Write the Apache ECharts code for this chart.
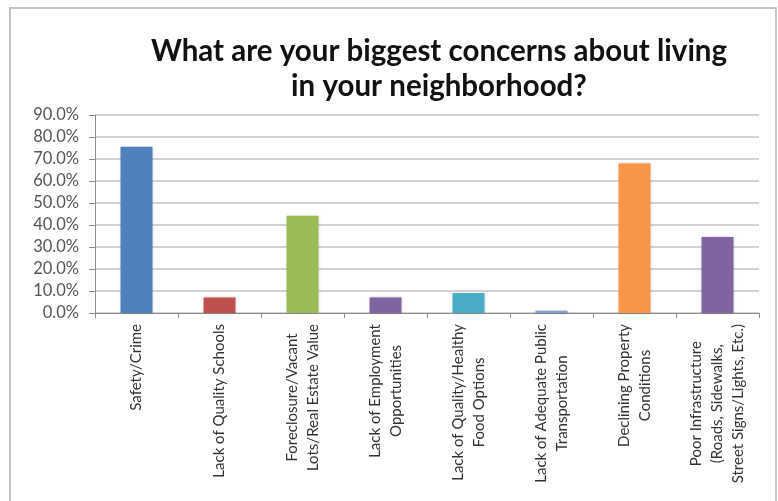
<!DOCTYPE html>
<html>
<head>
<meta charset="utf-8">
<script src="https://cdn.jsdelivr.net/npm/echarts@6/dist/echarts.min.js"></script>
<style>
  html, body { margin: 0; padding: 0; background: #fff; }
  #chart { position: absolute; left: 0; top: 0; width: 778px; height: 501px; }
  #frame { position: absolute; left: 9px; top: 7px; width: 764px; height: 500px;
           border: 2px solid #c4c4c4; border-bottom: none; pointer-events: none; }
</style>
</head>
<body>
<div id="chart"></div>
<div id="frame"></div>
<script>
// Survey question and answer categories
const titleText = 'What are your biggest concerns about living\nin your neighborhood?';
const categories = [
  'Safety/Crime',
  'Lack of Quality Schools',
  'Foreclosure/Vacant\nLots/Real Estate Value',
  'Lack of Employment\nOpportunities',
  'Lack of Quality/Healthy\nFood Options',
  'Lack of Adequate Public\nTransportation',
  'Declining Property\nConditions',
  'Poor Infrastructure\n(Roads, Sidewalks,\nStreet Signs/Lights, Etc.)'
];
// Share of respondents (%)
const shares = [75.6, 7.1, 44.2, 7.1, 9.1, 1.0, 68.0, 34.5];
const barColors = ['#4F81BD', '#C0504D', '#9BBB59', '#8064A2', '#4BACC6', '#7FA0CF', '#F79646', '#8064A2'];
const yMax = 90;
const yStep = 10;

const chart = echarts.init(document.getElementById('chart'), null, { renderer: 'canvas' });
chart.setOption({
  animation: false,
  backgroundColor: 'transparent',
  title: {
    text: titleText,
    left: 434,
    top: 29,
    textAlign: 'center',
    textStyle: {
      fontFamily: 'Lato',
      fontWeight: 'bold',
      fontSize: 29.5,
      lineHeight: 35,
      color: '#111'
    }
  },
  grid: { left: 95, right: 19, top: 115, bottom: 188, containLabel: false },
  xAxis: {
    type: 'category',
    data: categories,
    axisLine: { lineStyle: { color: '#8c8c8c', width: 1 } },
    axisTick: { show: true, length: 5, alignWithLabel: false, lineStyle: { color: '#8c8c8c' } },
    axisLabel: {
      interval: 0,
      rotate: 90,
      margin: 11,
      color: '#333',
      formatter: function (v) {
        return v.split('\n').map(function (l) { return '{c|' + l + '}'; }).join('\n');
      },
      rich: {
        c: { align: 'center', fontFamily: 'Lato', fontSize: 15, lineHeight: 21, color: '#333' }
      }
    }
  },
  yAxis: {
    type: 'value',
    min: 0,
    max: yMax,
    interval: yStep,
    axisLine: { show: true, lineStyle: { color: '#8c8c8c', width: 1 } },
    axisTick: { show: true, length: 6, lineStyle: { color: '#8c8c8c' } },
    splitLine: { lineStyle: { color: '#c4c4c4', width: 1.5 } },
    axisLabel: {
      margin: 16,
      color: '#555',
      fontFamily: 'Lato',
      fontSize: 16.5,
      formatter: function (v) { return v.toFixed(1) + '%'; }
    }
  },
  series: [{
    type: 'bar',
    data: shares.map(function (v, i) {
      return { value: v, itemStyle: { color: barColors[i] } };
    }),
    barWidth: 32,
    itemStyle: {
      borderWidth: 0,
      shadowBlur: 3,
      shadowColor: 'rgba(0,0,0,0.2)'
    }
  }]
});
</script>
</body>
</html>
